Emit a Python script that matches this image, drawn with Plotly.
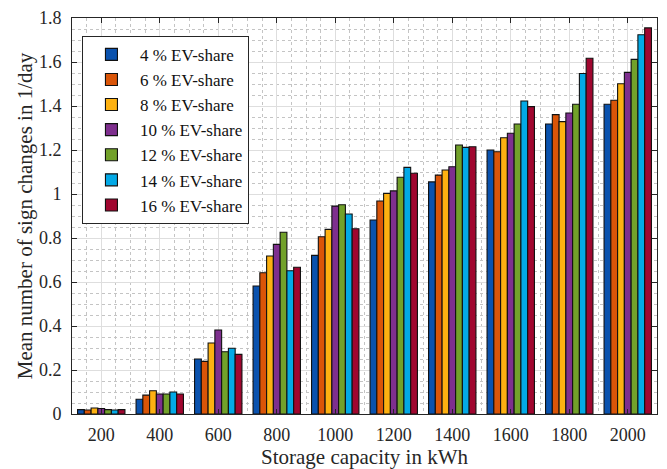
import plotly.graph_objects as go

capacity = [200, 400, 600, 800, 1000, 1200, 1400, 1600, 1800, 2000]
series_names = ["4 % EV-share", "6 % EV-share", "8 % EV-share", "10 % EV-share",
                "12 % EV-share", "14 % EV-share", "16 % EV-share"]

ev4 = [0.020, 0.067, 0.250, 0.582, 0.721, 0.882, 1.055, 1.200, 1.318, 1.408]
ev6 = [0.018, 0.086, 0.239, 0.642, 0.806, 0.968, 1.086, 1.192, 1.361, 1.426]
ev8 = [0.027, 0.106, 0.323, 0.718, 0.839, 1.003, 1.109, 1.256, 1.329, 1.501]
ev10 = [0.025, 0.091, 0.382, 0.771, 0.945, 1.014, 1.124, 1.276, 1.368, 1.553]
ev12 = [0.020, 0.091, 0.283, 0.826, 0.951, 1.076, 1.223, 1.318, 1.408, 1.612]
ev14 = [0.018, 0.100, 0.299, 0.651, 0.909, 1.121, 1.212, 1.423, 1.548, 1.724]
ev16 = [0.020, 0.091, 0.271, 0.667, 0.842, 1.094, 1.215, 1.397, 1.617, 1.755]

series_values = [ev4, ev6, ev8, ev10, ev12, ev14, ev16]
colors = ["#0A52AE", "#DA5508", "#FDB111", "#7E2F8E", "#72A12A", "#03A9E6", "#A0062F"]

yticks = [0, 0.2, 0.4, 0.6, 0.8, 1, 1.2, 1.4, 1.6, 1.8]
ytick_text = ["0", "0.2", "0.4", "0.6", "0.8", "1", "1.2", "1.4", "1.6", "1.8"]

FONT = "Liberation Serif"

fig = go.Figure()
for name, vals, col in zip(series_names, series_values, colors):
    fig.add_trace(go.Bar(
        x=capacity, y=vals, name=name,
        marker=dict(color=col, line=dict(color="#111111", width=1.1)),
    ))

axis_common = dict(
    showline=True, linecolor="#262626", linewidth=1, mirror="ticks",
    ticks="inside", ticklen=5, tickcolor="#262626",
    showgrid=True, gridcolor="#dedede", gridwidth=1,
    zeroline=False, automargin=False,
    tickfont=dict(family=FONT, size=18, color="#262626"),
)

fig.update_layout(
    width=667, height=469,
    margin=dict(l=72, r=10, t=18, b=55),
    paper_bgcolor="white", plot_bgcolor="white",
    barmode="group", bargap=0.19, bargroupgap=0,
    font=dict(family=FONT, color="#262626"),
    showlegend=True,
    legend=dict(
        x=0.017, y=0.955, xanchor="left", yanchor="top",
        bgcolor="white", bordercolor="#262626", borderwidth=1,
        font=dict(family=FONT, size=17, color="#111111"),
        itemwidth=47, tracegroupgap=0,
    ),
    xaxis=dict(
        **axis_common,
        range=[100, 2100], tickmode="array", tickvals=capacity,
        ticktext=[str(c) for c in capacity],
        ticklabelstandoff=4,
        minor=dict(dtick=50, tick0=0, showgrid=True, gridcolor="#c4c4c4",
                   griddash="dot", gridwidth=1, ticks=""),
        title=dict(text="Storage capacity in kWh",
                   font=dict(family=FONT, size=21, color="#262626"), standoff=12),
    ),
    yaxis=dict(
        **axis_common,
        range=[0, 1.8], tickmode="array", tickvals=yticks, ticktext=ytick_text,
        ticklabelstandoff=6,
        minor=dict(dtick=0.05, tick0=0, showgrid=True, gridcolor="#c4c4c4",
                   griddash="dot", gridwidth=1, ticks=""),
        title=dict(text="Mean number of sign changes in 1/day",
                   font=dict(family=FONT, size=21, color="#262626"), standoff=0),
    ),
)

fig.write_html("out.html")
